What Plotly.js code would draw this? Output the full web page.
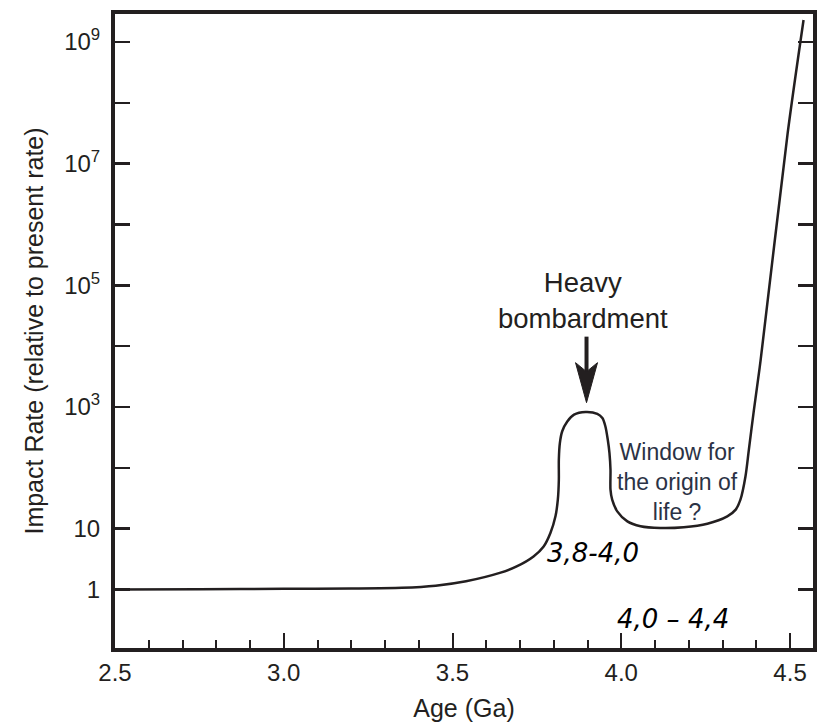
<!DOCTYPE html>
<html>
<head>
<meta charset="utf-8">
<script src="https://cdn.plot.ly/plotly-3.0.1.min.js"></script>
<style>html,body{margin:0;padding:0;background:#fff;}#chart{width:825px;height:725px;}</style>
</head>
<body>
<div id="chart"></div>
<script>
// Age (Ga) and impact rate relative to present rate
const ageGa = [2.50, 2.75, 3.00, 3.20, 3.35, 3.45, 3.54, 3.64, 3.69, 3.74, 3.77, 3.79, 3.805, 3.812, 3.815, 3.815, 3.818, 3.825, 3.84, 3.86, 3.894, 3.929, 3.944, 3.953, 3.96, 3.965, 3.968, 3.968, 3.973, 3.988, 4.018, 4.057, 4.116, 4.185, 4.255, 4.314, 4.339, 4.353, 4.368, 4.378, 4.393, 4.413, 4.493, 4.54];
const impactRate = [1.0, 1.01, 1.03, 1.04, 1.07, 1.16, 1.37, 1.88, 2.4, 3.5, 5.1, 8.5, 16, 30, 64, 136, 256, 400, 580, 750, 830, 775, 660, 480, 290, 175, 93, 44, 30, 19.3, 13.2, 11, 10.3, 10.6, 12.1, 16, 20.6, 30, 73, 200, 900, 6000, 3.2e7, 2.3e9];

const yTickVals = [1, 10, 1e3, 1e5, 1e7, 1e9];
const yTickText = ['1', '10', '10<sup>3</sup>', '10<sup>5</sup>', '10<sup>7</sup>', '10<sup>9</sup>'];
const yMinorVals = [100, 1e4, 1e6, 1e8];

const ink = '#231f20';
const sans = 'Liberation Sans, Arial, Helvetica, sans-serif';

const traces = [{
  x: ageGa,
  y: impactRate,
  type: 'scatter',
  mode: 'lines',
  line: {color: ink, width: 2.5, shape: 'spline', smoothing: 0.8},
  hoverinfo: 'x+y',
  showlegend: false
}];

const layout = {
  width: 825,
  height: 725,
  margin: {l: 115, r: 12, t: 14, b: 76.5, pad: 0},
  paper_bgcolor: '#ffffff',
  plot_bgcolor: '#ffffff',
  showlegend: false,
  xaxis: {
    range: [2.5, 4.568],
    tick0: 2.5,
    dtick: 0.5,
    tickformat: '.1f',
    ticks: 'inside',
    ticklen: 15,
    tickwidth: 2,
    tickcolor: ink,
    minor: {dtick: 0.1, ticks: 'inside', ticklen: 8, tickwidth: 2, tickcolor: ink},
    showline: true,
    linewidth: 4,
    linecolor: ink,
    mirror: true,
    showgrid: false,
    zeroline: false,
    tickfont: {family: sans, size: 24, color: ink},
    ticklabelstandoff: 0,
    title: {text: 'Age (Ga)', font: {family: sans, size: 25, color: ink}, standoff: 16}
  },
  xaxis2: {
    overlaying: 'x',
    side: 'top',
    anchor: 'y',
    range: [2.5385, 4.6065],
    tick0: 2.5,
    dtick: 0.5,
    ticks: 'inside',
    ticklen: 13,
    tickwidth: 2,
    tickcolor: ink,
    minor: {dtick: 0.1, ticks: 'inside', ticklen: 8, tickwidth: 2, tickcolor: ink},
    showticklabels: false,
    showline: false,
    showgrid: false,
    zeroline: false
  },
  yaxis: {
    type: 'log',
    range: [-0.96, 9.46],
    tickmode: 'array',
    tickvals: yTickVals,
    ticktext: yTickText,
    ticks: 'inside',
    ticklen: 15,
    tickwidth: 2.5,
    tickcolor: ink,
    minor: {tickmode: 'array', tickvals: yMinorVals, ticks: 'inside', ticklen: 15, tickwidth: 2.5, tickcolor: ink, showgrid: false},
    showline: true,
    linewidth: 4,
    linecolor: ink,
    mirror: 'allticks',
    showgrid: false,
    zeroline: false,
    tickfont: {family: sans, size: 24, color: ink},
    ticklabelstandoff: 6,
    title: {text: 'Impact Rate (relative to present rate)', font: {family: sans, size: 25, color: ink}, standoff: 14}
  },
  shapes: [
    {
      type: 'line', xref: 'x', yref: 'paper',
      xsizemode: 'pixel', ysizemode: 'pixel',
      xanchor: 3.897, yanchor: 0.387,
      x0: 0, x1: 0, y0: 28, y1: 66,
      line: {color: ink, width: 4}
    },
    {
      type: 'path', xref: 'x', yref: 'paper',
      xsizemode: 'pixel', ysizemode: 'pixel',
      xanchor: 3.897, yanchor: 0.387,
      path: 'M0,0 L-11,40 L0,31 L11,40 Z',
      fillcolor: ink,
      line: {color: ink, width: 1}
    }
  ],
  annotations: [
    {
      x: 3.888, y: 4.75, xref: 'x', yref: 'y',
      text: 'Heavy<br>bombardment', showarrow: false,
      font: {family: sans, size: 27.5, color: ink}, align: 'center'
    },
    {
      x: 4.167, y: 1.773, xref: 'x', yref: 'y',
      text: 'Window for<br>the origin of<br>life ?', showarrow: false,
      font: {family: sans, size: 23, color: '#2b3245'}, align: 'center'
    },
    {
      x: 3.916, y: 0.60, xref: 'x', yref: 'y',
      text: '3,8-4,0', showarrow: false,
      font: {family: 'DejaVu Sans, sans-serif', size: 26, color: '#000000', style: 'italic'}
    },
    {
      x: 4.153, y: -0.476, xref: 'x', yref: 'y',
      text: '4,0 – 4,4', showarrow: false,
      font: {family: 'DejaVu Sans, sans-serif', size: 26, color: '#000000', style: 'italic'}
    }
  ]
};

Plotly.newPlot('chart', traces, layout, {displayModeBar: false, staticPlot: true});
</script>
</body>
</html>
